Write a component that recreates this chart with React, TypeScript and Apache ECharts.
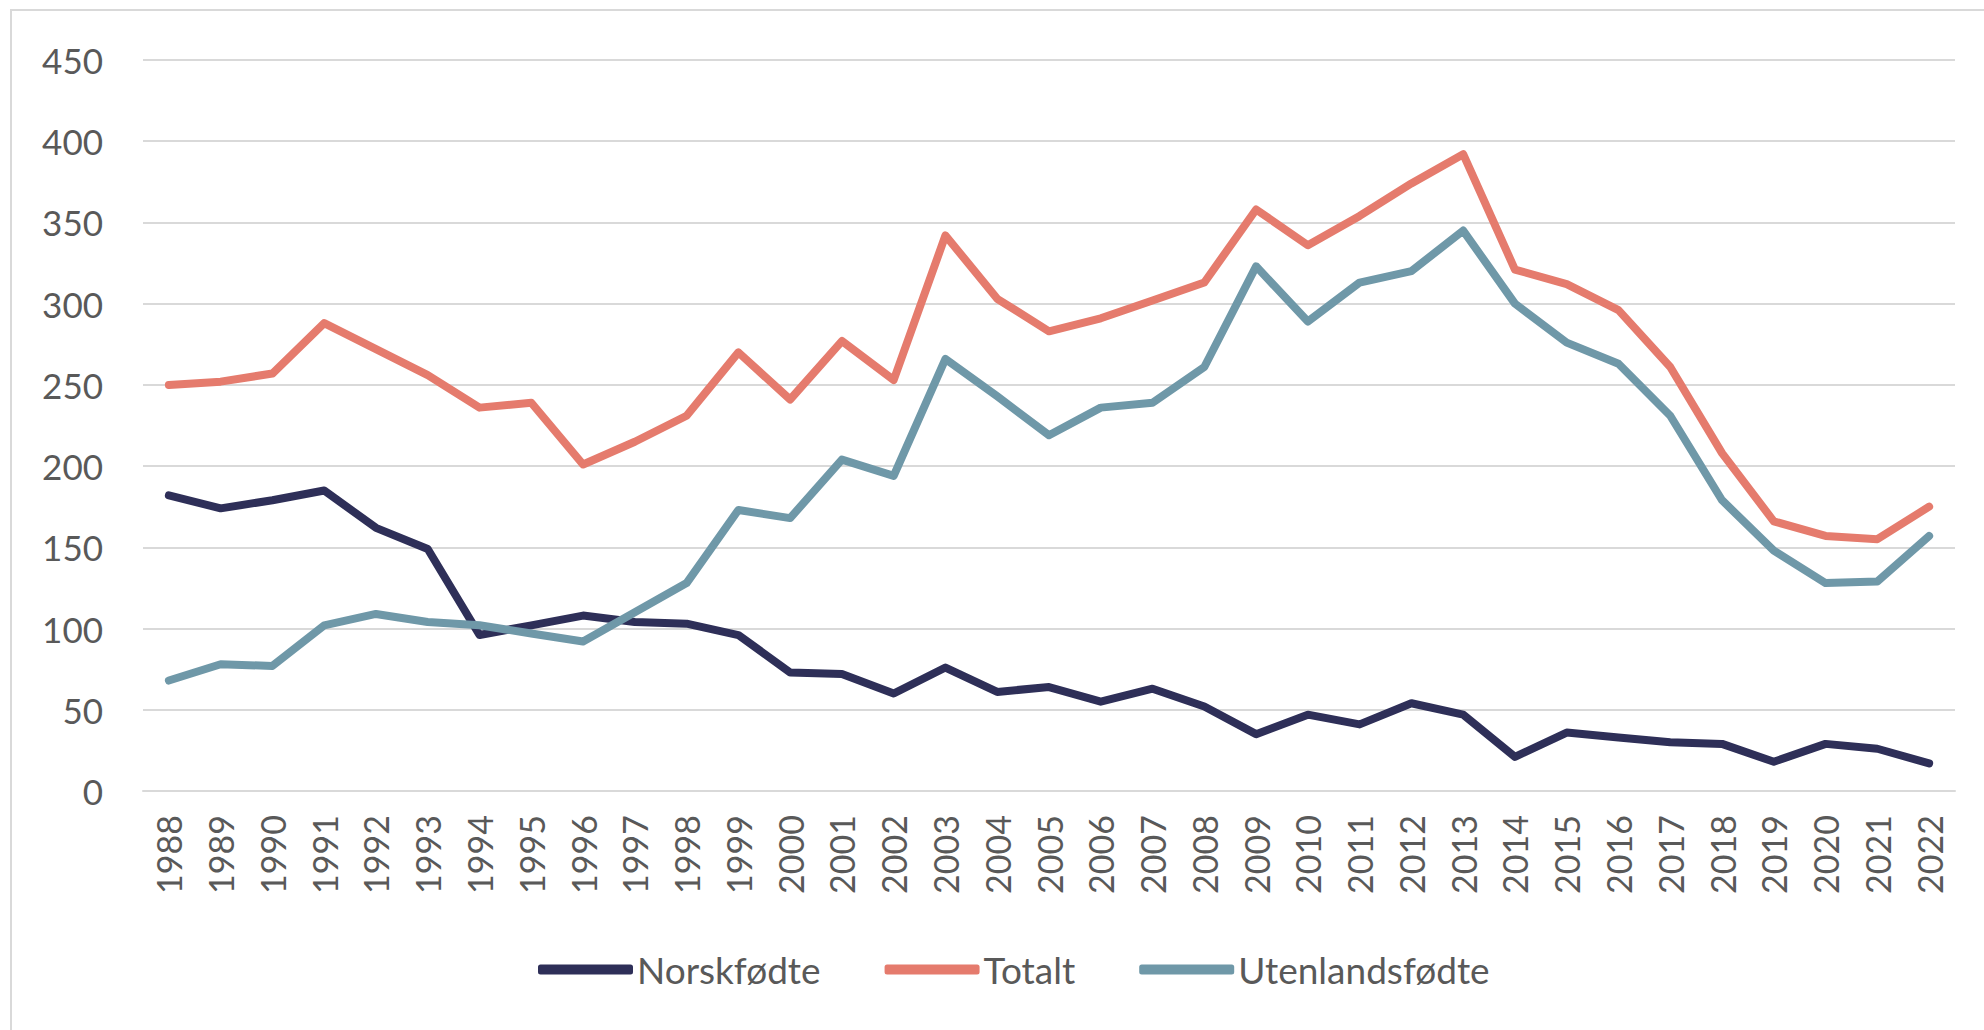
import React, { useEffect, useRef } from "react";
import * as echarts from "echarts";

const years = [
  "1988","1989","1990","1991","1992","1993","1994","1995","1996","1997","1998","1999",
  "2000","2001","2002","2003","2004","2005","2006","2007","2008","2009","2010","2011",
  "2012","2013","2014","2015","2016","2017","2018","2019","2020","2021","2022",
];

const norskfodte = [
  182, 174, 179, 185, 162, 149, 96, 102, 108, 104, 103, 96,
  73, 72, 60, 76, 61, 64, 55, 63, 52, 35, 47, 41,
  54, 47, 21, 36, 33, 30, 29, 18, 29, 26, 17,
];

const totalt = [
  250, 252, 257, 288, 272, 256, 236, 239, 201, 215, 231, 270,
  241, 277, 253, 342, 303, 283, 291, 302, 313, 358, 336, 354,
  374, 392, 321, 312, 296, 261, 208, 166, 157, 155, 175,
];

const utenlandsfodte = [
  68, 78, 77, 102, 109, 104, 102, 97, 92, 110, 128, 173,
  168, 204, 194, 266, 243, 219, 236, 239, 261, 323, 289, 313,
  320, 345, 300, 276, 263, 231, 179, 148, 128, 129, 157,
];

const seriesNames = ["Norskfødte", "Totalt", "Utenlandsfødte"];
const seriesColors = ["#2e2f58", "#e57b6d", "#6f98a8"];

const FONT = "Lato, 'Open Sans', sans-serif";
const TEXT_COLOR = "#595959";

export default function App() {
  const ref = useRef<HTMLDivElement>(null);

  useEffect(() => {
    document.body.style.margin = "0";
    const chart = echarts.init(ref.current!, null, { renderer: "svg" });
    const data = [norskfodte, totalt, utenlandsfodte];
    chart.setOption({
      animation: false,
      backgroundColor: "#ffffff",
      graphic: [
        {
          type: "rect",
          shape: { x: 11, y: 10, width: 2100, height: 1100 },
          style: { fill: "none", stroke: "#d9d9d9", lineWidth: 2 },
          silent: true,
          z: -1,
        },
      ],
      grid: { left: 143, right: 29, top: 60, bottom: 239, containLabel: false },
      legend: {
        top: 946,
        left: 533,
        itemWidth: 95,
        itemHeight: 10,
        itemGap: 64,
        icon: "roundRect",
        textStyle: { fontFamily: FONT, fontSize: 37, color: TEXT_COLOR, padding: [0, 0, 0, -1] },
        data: seriesNames,
      },
      xAxis: {
        type: "category",
        data: years,
        boundaryGap: true,
        axisLine: { show: true, lineStyle: { color: "#d9d9d9", width: 2 } },
        axisTick: { show: false },
        axisLabel: {
          rotate: 90,
          margin: 24,
          interval: 0,
          fontFamily: FONT,
          fontSize: 34,
          color: TEXT_COLOR,
        },
      },
      yAxis: {
        type: "value",
        min: 0,
        max: 450,
        interval: 50,
        axisLine: { show: false },
        axisTick: { show: false },
        splitLine: { lineStyle: { color: "#d9d9d9", width: 2 } },
        axisLabel: { margin: 40, fontFamily: FONT, fontSize: 35, color: TEXT_COLOR },
      },
      series: seriesNames.map((name, i) => ({
        name,
        type: "line",
        data: data[i],
        showSymbol: false,
        symbol: "none",
        color: seriesColors[i],
        lineStyle: { width: 8, color: seriesColors[i], cap: "round", join: "round" },
      })),
    });
    return () => chart.dispose();
  }, []);

  return (
    <div
      ref={ref}
      style={{ position: "fixed", left: 0, top: 0, width: 1984, height: 1030 }}
    />
  );
}
